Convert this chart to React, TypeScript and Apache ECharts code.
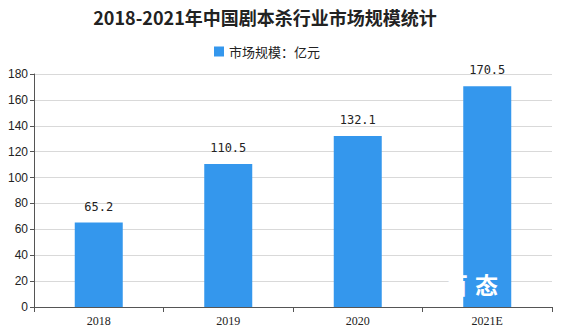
import React, { useEffect, useRef } from "react";
import * as echarts from "echarts";

const categories = ["2018", "2019", "2020", "2021E"];
const marketSize = [65.2, 110.5, 132.1, 170.5];
const seriesName = "市场规模：亿元";
const titleText = "2018-2021年中国剧本杀行业市场规模统计";

export default function App() {
  const ref = useRef<HTMLDivElement>(null);
  useEffect(() => {
    if (!ref.current) return;
    const chart = echarts.init(ref.current, undefined, { renderer: "svg" });
    chart.setOption({
      animation: false,
      backgroundColor: "#ffffff",
      title: {
        text: titleText,
        left: 260,
        textAlign: "center",
        top: 3,
        textStyle: {
          fontFamily: "Noto Sans CJK SC",
          fontSize: 18,
          fontWeight: "bold",
          color: "#222",
        },
      },
      legend: {
        top: 40,
        left: 209,
        itemWidth: 10,
        itemHeight: 10,
        itemGap: 4,
        icon: "rect",
        textStyle: { fontFamily: "Noto Sans CJK SC", fontSize: 13, color: "#222" },
        data: [seriesName],
      },
      grid: { left: 34, right: 10, top: 74, bottom: 24, containLabel: false },
      xAxis: {
        type: "category",
        data: categories,
        axisLine: { lineStyle: { color: "#555", width: 1 } },
        axisTick: { show: true, alignWithLabel: false, length: 5, lineStyle: { color: "#555" } },
        axisLabel: { fontFamily: "Liberation Serif", fontSize: 12, color: "#222", margin: 8 },
      },
      yAxis: {
        type: "value",
        min: 0,
        max: 180,
        interval: 20,
        axisLine: { show: true, lineStyle: { color: "#555" } },
        axisTick: { show: true, length: 4, lineStyle: { color: "#555" } },
        axisLabel: { fontFamily: "Liberation Sans", fontSize: 12, color: "#222", margin: 6 },
        splitLine: { lineStyle: { color: "#d9d9d9" } },
      },
      series: [
        {
          name: seriesName,
          type: "bar",
          data: marketSize,
          barWidth: 48,
          itemStyle: { color: "#3497ED" },
          label: {
            show: true,
            position: "top",
            distance: 10,
            fontFamily: "DejaVu Sans Mono",
            fontSize: 12,
            color: "#222",
            formatter: (p: any) => p.value.toFixed(1),
          },
        },
      ],
      graphic: [
        {
          type: "text",
          left: 445,
          top: 272,
          z: 100,
          style: {
            text: "百",
            fill: "#ffffff",
            fontSize: 23,
            fontFamily: "Noto Sans CJK SC",
            fontWeight: "bold",
          },
        },
        {
          type: "text",
          left: 475,
          top: 272,
          z: 100,
          style: {
            text: "态",
            fill: "#ffffff",
            fontSize: 23,
            fontFamily: "Noto Sans CJK SC",
            fontWeight: "bold",
          },
        },
      ],
    });
    return () => chart.dispose();
  }, []);
  return (
    <div
      ref={ref}
      style={{ position: "fixed", left: 0, top: 0, width: 562, height: 331 }}
    />
  );
}
